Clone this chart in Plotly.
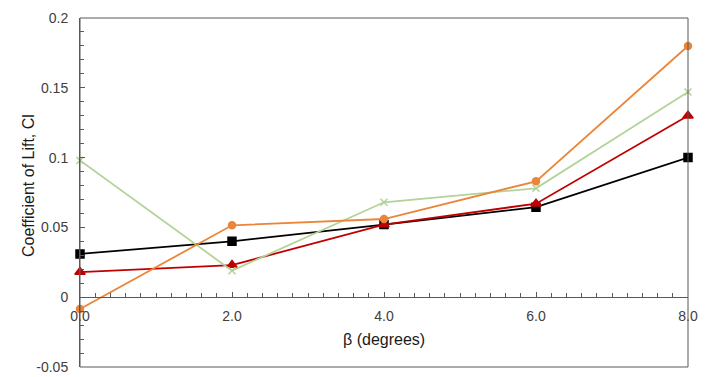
import plotly.graph_objects as go

beta = [0, 2, 4, 6, 8]
cl_black = [0.031, 0.040, 0.052, 0.0645, 0.100]
cl_red = [0.018, 0.023, 0.052, 0.067, 0.130]
cl_orange = [-0.0085, 0.0515, 0.056, 0.083, 0.180]
cl_green = [0.098, 0.019, 0.068, 0.078, 0.147]

x_ticks = [0, 2, 4, 6, 8]
x_ticktext = ["0.0", "2.0", "4.0", "6.0", "8.0"]
y_ticks = [-0.05, 0, 0.05, 0.1, 0.15, 0.2]
y_ticktext = ["-0.05", "0", "0.05", "0.1", "0.15", "0.2"]

W, H = 705, 377
ml, mr, mt, mb = 80, 17, 18, 10
ymin, ymax = -0.05, 0.2
zero_pos = (0 - ymin) / (ymax - ymin)

fig = go.Figure()
series = [
    (cl_black, "#000000", "square", 8),
    (cl_red, "#C00000", "triangle-up", 9),
    (cl_green, "#B3D398", "x-thin-open", 7),
    (cl_orange, "#EA8539", "circle", 7),
]
for vals, col, sym, sz in series:
    fig.add_trace(go.Scatter(
        x=beta, y=vals, mode="lines+markers",
        line=dict(color=col, width=1.8),
        marker=dict(symbol=sym, size=sz, color=col,
                    line=dict(color=col, width=1.5)),
        showlegend=False, cliponaxis=False,
    ))

tickfont = dict(family="Liberation Sans, Arial, sans-serif", size=14, color="#404040")
titlefont = dict(family="Liberation Sans, Arial, sans-serif", size=16, color="#1a1a1a")

fig.update_layout(
    width=W, height=H,
    margin=dict(l=ml, r=mr, t=mt, b=mb, autoexpand=False),
    paper_bgcolor="white", plot_bgcolor="white",
    xaxis=dict(
        range=[0, 8], tickvals=x_ticks, ticktext=x_ticktext,
        showgrid=False, zeroline=False, automargin=False,
        showline=True, linecolor="#595959", linewidth=1,
        anchor="free", position=zero_pos,
        ticks="inside", ticklen=5, tickcolor="#595959",
        minor=dict(dtick=0.2, ticks="inside", ticklen=4, tickcolor="#595959"),
        tickfont=tickfont, ticklabelstandoff=6, ticklabeloverflow="allow",
    ),
    yaxis=dict(
        range=[ymin, ymax], tickvals=y_ticks, ticktext=y_ticktext,
        showgrid=False, zeroline=False, automargin=False,
        showline=True, linecolor="#595959", linewidth=1,
        ticks="inside", ticklen=5, tickcolor="#595959",
        minor=dict(dtick=0.01, tick0=0, ticks="inside", ticklen=4, tickcolor="#595959"),
        tickfont=tickfont, ticklabelstandoff=8, ticklabeloverflow="allow",
    ),
    shapes=[dict(type="rect", xref="paper", yref="paper", x0=0, x1=1, y0=0, y1=1,
                 line=dict(color="#595959", width=1), fillcolor="rgba(0,0,0,0)")],
    annotations=[
        dict(text="β (degrees)", xref="paper", yref="paper", x=0.5,
             y=zero_pos, yshift=-53, showarrow=False, font=titlefont),
        dict(text="Coefficient of Lift, Cl", xref="paper", yref="paper",
             x=0, xshift=-62, y=0.52, textangle=-90, showarrow=False, font=titlefont),
    ],
)

fig.write_html("out.html", config={"displayModeBar": False, "staticPlot": True},
               post_script="document.body.style.margin='0';document.body.style.overflow='hidden';")
